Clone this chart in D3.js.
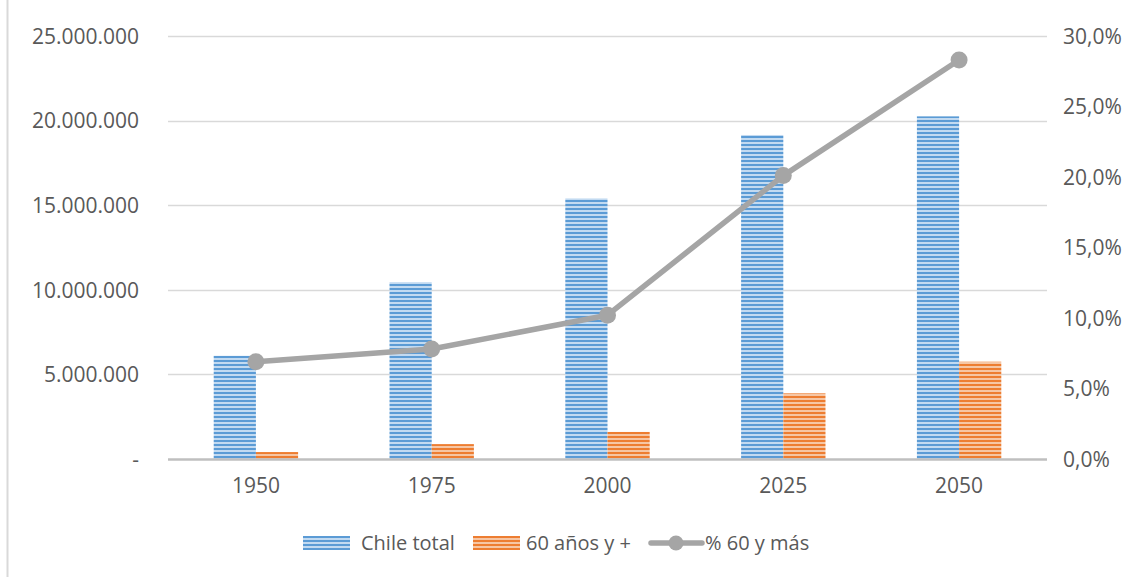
<!DOCTYPE html>
<html><head><meta charset="utf-8">
<script src="https://cdn.jsdelivr.net/npm/d3@7/dist/d3.min.js"></script>
<style>body{margin:0;background:#fff}svg{display:block}text{font-family:"Open Sans",sans-serif;fill:#595959}</style>
</head><body><svg id="c" width="1140" height="579"></svg>
<script>
const years = ["1950","1975","2000","2025","2050"];
const chileTotal = [6100000, 10450000, 15400000, 19150000, 20250000];
const mayores60 = [410000, 880000, 1600000, 3880000, 5750000];
const pct60 = [0.069, 0.078, 0.102, 0.201, 0.283];
const leftTicks = [0, 5000000, 10000000, 15000000, 20000000, 25000000];
const rightTicks = [0, 0.05, 0.10, 0.15, 0.20, 0.25, 0.30];
const seriesNames = ["Chile total", "60 años y +", "% 60 y más"];

const svg = d3.select("#c");
const L = 168, R = 1047, T = 36, B = 459;
const FS = "21px", LFS = "20px";
const x = d3.scaleBand().domain(years).range([L, R]).paddingInner(0.52).paddingOuter(0.26);
const yL = d3.scaleLinear().domain([0, 25000000]).range([B, T]);
const yR = d3.scaleLinear().domain([0, 0.30]).range([B, T]);

const defs = svg.append("defs");
function stripes(id, dark, light){
  const p = defs.append("pattern").attr("id", id).attr("patternUnits","userSpaceOnUse").attr("width",8).attr("height",4);
  p.append("rect").attr("width",8).attr("height",4).attr("fill",light);
  p.append("rect").attr("y",0).attr("width",8).attr("height",2).attr("fill",dark);
}
stripes("pb","#5b9bd5","#c2daf1");
stripes("po","#ed7d31","#f6c6a4");

// frame left border
svg.append("line").attr("x1",7.5).attr("x2",7.5).attr("y1",0).attr("y2",577).attr("stroke","#d9d9d9").attr("stroke-width",2);

// gridlines
svg.append("g").selectAll("line").data(leftTicks.filter(d=>d>0)).join("line")
  .attr("x1",L).attr("x2",R).attr("y1",d=>Math.round(yL(d))+0.5).attr("y2",d=>Math.round(yL(d))+0.5)
  .attr("stroke","#d9d9d9").attr("stroke-width",1.4);

const fmtL = d => d===0 ? "-" : d3.format(",")(d).replace(/,/g,".");
const fmtR = d => (d*100).toFixed(1).replace(".",",") + "%";

const axL = d3.axisLeft(yL).tickValues(leftTicks).tickFormat(fmtL).tickSize(0).tickPadding(29);
const gL = svg.append("g").attr("transform",`translate(${L},0)`).call(axL);
gL.select(".domain").remove();
gL.selectAll("text").style("font-size",FS).attr("fill","#595959").attr("dy","0.35em");

const axR = d3.axisRight(yR).tickValues(rightTicks).tickFormat(fmtR).tickSize(0).tickPadding(16);
const gR = svg.append("g").attr("transform",`translate(${R},0)`).call(axR);
gR.select(".domain").remove();
gR.selectAll("text").style("font-size",FS).attr("fill","#595959").attr("dy","0.35em");

// bars
const bw = x.bandwidth()/2;
const bars = svg.append("g");
bars.selectAll(".b1").data(years).join("rect")
  .attr("x",d=>x(d)).attr("width",bw)
  .attr("y",(d,i)=>yL(chileTotal[i])).attr("height",(d,i)=>B-yL(chileTotal[i]))
  .attr("fill","url(#pb)");
bars.selectAll(".b2").data(years).join("rect")
  .attr("x",d=>x(d)+bw).attr("width",bw)
  .attr("y",(d,i)=>yL(mayores60[i])).attr("height",(d,i)=>B-yL(mayores60[i]))
  .attr("fill","url(#po)");

// x axis
const axB = d3.axisBottom(x).tickSize(0).tickPadding(19);
const gB = svg.append("g").attr("transform",`translate(0,${B})`).call(axB);
gB.select(".domain").remove();
gB.selectAll("text").style("font-size",FS).attr("fill","#595959");
svg.append("line").attr("x1",L).attr("x2",R).attr("y1",B+0.5).attr("y2",B+0.5).attr("stroke","#bfbfbf").attr("stroke-width",2.5);

// line
const cx = d => x(d) + x.bandwidth()/2;
svg.append("path").datum(years)
  .attr("d", d3.line().x(d=>cx(d)).y((d,i)=>yR(pct60[i])))
  .attr("fill","none").attr("stroke","#a5a5a5").attr("stroke-width",5.5).attr("stroke-linejoin","round");
svg.append("g").selectAll("circle").data(years).join("circle")
  .attr("cx",d=>cx(d)).attr("cy",(d,i)=>yR(pct60[i])).attr("r",8.5).attr("fill","#a5a5a5");

// legend
const lg = svg.append("g");
const ly = 543;
lg.append("rect").attr("x",303).attr("y",536).attr("width",47).attr("height",14).attr("fill","url(#pb)");
lg.append("text").attr("x",361).attr("y",ly).attr("dy","0.35em").style("font-size",LFS).text(seriesNames[0]);
lg.append("rect").attr("x",473).attr("y",536).attr("width",47).attr("height",14).attr("fill","url(#po)");
lg.append("text").attr("x",526).attr("y",ly).attr("dy","0.35em").style("font-size",LFS).text(seriesNames[1]);
lg.append("line").attr("x1",651).attr("x2",702).attr("y1",ly).attr("y2",ly).attr("stroke","#a5a5a5").attr("stroke-width",5.5).attr("stroke-linecap","round");
lg.append("circle").attr("cx",676).attr("cy",ly).attr("r",7.5).attr("fill","#a5a5a5");
lg.append("text").attr("x",705).attr("y",ly).attr("dy","0.35em").style("font-size",LFS).text(seriesNames[2]);
</script></body></html>
